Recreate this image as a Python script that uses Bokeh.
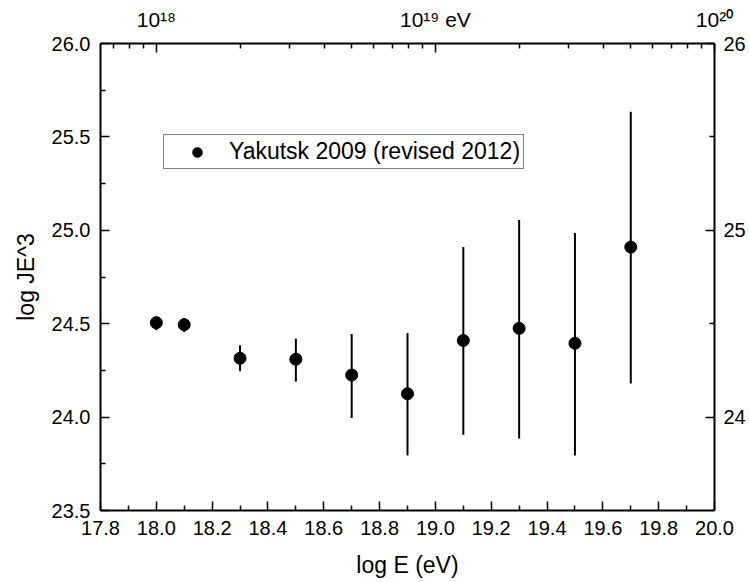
import numpy as np
from bokeh.plotting import figure
from bokeh.models import LinearAxis, FixedTicker, NumeralTickFormatter, Range1d, ColumnDataSource
from bokeh.embed import file_html
from bokeh.resources import INLINE

# ---- data ----
log_e = [18.0, 18.1, 18.3, 18.5, 18.7, 18.9, 19.1, 19.3, 19.5, 19.7]
log_je3 = [24.505, 24.495, 24.315, 24.31, 24.225, 24.125, 24.41, 24.475, 24.395, 24.91]
err_low = [24.465, 24.455, 24.245, 24.19, 23.995, 23.795, 23.905, 23.885, 23.795, 24.18]
err_high = [24.54, 24.53, 24.385, 24.42, 24.445, 24.45, 24.91, 25.055, 24.985, 25.635]
series_name = "Yakutsk 2009 (revised 2012)"

# ---- axes ticks / labels ----
x_major = [17.8, 18.0, 18.2, 18.4, 18.6, 18.8, 19.0, 19.2, 19.4, 19.6, 19.8, 20.0]
x_minor = [17.9, 18.1, 18.3, 18.5, 18.7, 18.9, 19.1, 19.3, 19.5, 19.7, 19.9]
y_major = [23.5, 24.0, 24.5, 25.0, 25.5, 26.0]
y_minor = [23.75, 24.25, 24.75, 25.25, 25.75]
right_major = [24, 25, 26]
right_minor = [24.5, 25.5]
right_labels = ["24", "25", "26"]
top_decades = [18, 19, 20]
top_labels = ["10¹⁸", "10¹⁹ eV", "10²⁰"]
top_minor_decades = [17, 18, 19]
top_minor_mult = [2, 3, 4, 5, 6, 7, 8, 9]

X_RANGE = (17.8, 20.0)
Y_RANGE = (23.5, 26.0)
FONT = "Liberation Sans"

top_minor = [d + np.log10(m) for d in top_minor_decades for m in top_minor_mult
             if X_RANGE[0] <= d + np.log10(m) <= X_RANGE[1]]

p = figure(width=749, height=582, output_backend="svg", toolbar_location=None,
           x_range=Range1d(*X_RANGE), y_range=Range1d(*Y_RANGE),
           x_axis_label="log E (eV)", y_axis_label="log JE^3")
p.frame_width = 614
p.frame_height = 467
p.min_border_left = 100
p.min_border_right = 35
p.min_border_top = 43
p.min_border_bottom = 72
p.xgrid.visible = False
p.ygrid.visible = False
p.outline_line_color = None
p.background_fill_color = "white"
p.border_fill_color = "white"

src = ColumnDataSource(dict(x=log_e, y=log_je3, lo=err_low, hi=err_high))
p.segment(x0="x", y0="lo", x1="x", y1="hi", source=src, line_color="black", line_width=2)
p.scatter(x="x", y="y", source=src, size=12, color="black", legend_label=series_name)


def style(ax, major_in=9, minor_in=5):
    ax.axis_line_color = "black"
    ax.axis_line_width = 2
    ax.major_tick_line_color = "black"
    ax.minor_tick_line_color = "black"
    ax.major_tick_line_width = 1.5
    ax.minor_tick_line_width = 1.5
    ax.major_tick_in = major_in
    ax.major_tick_out = 0
    ax.minor_tick_in = minor_in
    ax.minor_tick_out = 0
    ax.major_label_text_font = FONT
    ax.major_label_text_font_size = "20px"
    ax.major_label_text_color = "black"
    ax.axis_label_text_font = FONT
    ax.axis_label_text_font_size = "23px"
    ax.axis_label_text_font_style = "normal"
    ax.axis_label_text_color = "black"


xb = p.xaxis[0]
xb.ticker = FixedTicker(ticks=x_major, minor_ticks=x_minor)
xb.formatter = NumeralTickFormatter(format="0.0")
style(xb)
xb.major_label_standoff = 10
xb.axis_label_standoff = 14

yl = p.yaxis[0]
yl.ticker = FixedTicker(ticks=y_major, minor_ticks=y_minor)
yl.formatter = NumeralTickFormatter(format="0.0")
style(yl)
yl.major_label_standoff = 10
yl.axis_label_standoff = 10

yr = LinearAxis(ticker=FixedTicker(ticks=right_major, minor_ticks=right_minor),
                major_label_overrides={v: s for v, s in zip(right_major, right_labels)})
style(yr)
yr.major_label_standoff = 9
p.add_layout(yr, "right")

xt = LinearAxis(ticker=FixedTicker(ticks=top_decades, minor_ticks=top_minor),
                major_label_overrides={v: s for v, s in zip(top_decades, top_labels)})
style(xt)
xt.major_label_text_font_size = "21px"
xt.major_label_standoff = 13
p.add_layout(xt, "above")

lg = p.legend[0]
lg.location = (63, 341)
lg.border_line_color = "black"
lg.border_line_width = 1
lg.background_fill_color = "white"
lg.background_fill_alpha = 1
lg.padding = 3
lg.margin = 0
lg.spacing = 0
lg.glyph_width = 60
lg.glyph_height = 24
lg.label_standoff = 2
lg.label_text_font = FONT
lg.label_text_font_size = "23px"
lg.label_text_color = "black"

open("out.html", "w").write(file_html(p, INLINE))
